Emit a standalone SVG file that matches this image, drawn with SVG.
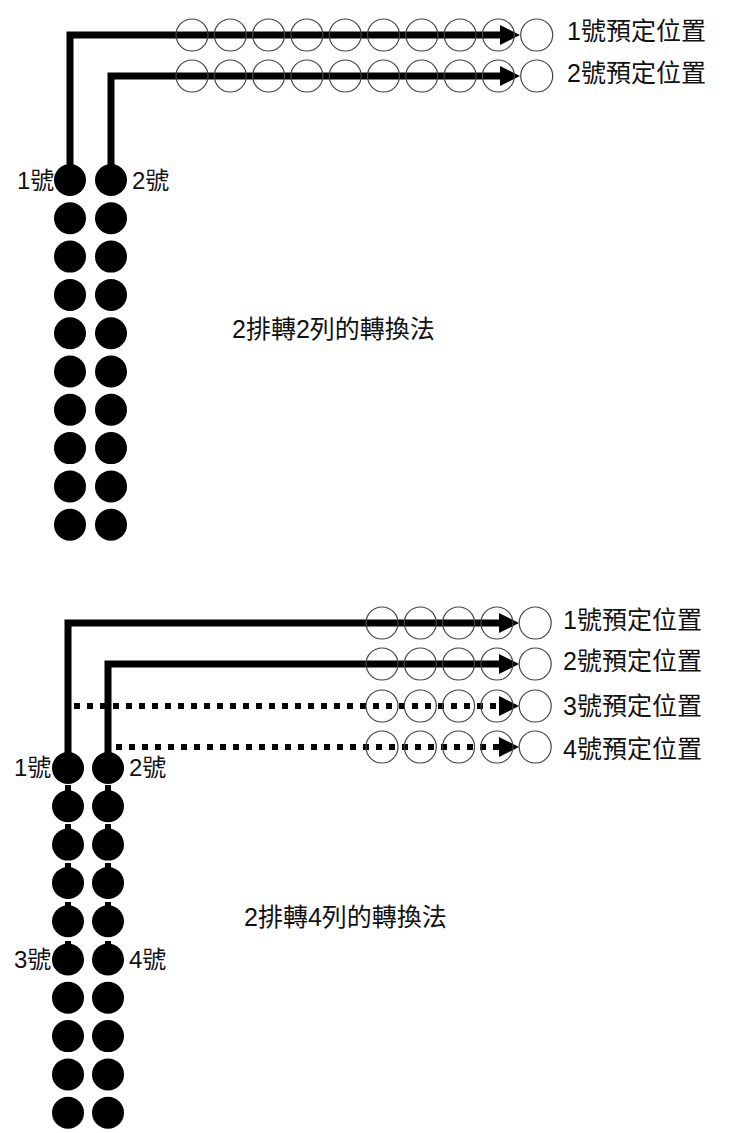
<svg xmlns="http://www.w3.org/2000/svg" width="740" height="1133" viewBox="0 0 740 1133">
<defs>
<style>
.dot{fill:#000}
.slot{fill:none;stroke:#444;stroke-width:1.2}
.solid{fill:none;stroke:#000;stroke-width:7;stroke-linejoin:miter}
.dash{fill:none;stroke:#000;stroke-width:6;stroke-dasharray:6 7}
text{font-family:"Liberation Sans","Noto Sans CJK TC",sans-serif;font-size:25px;fill:#111;dominant-baseline:central}
.lbl{font-size:24px}
</style>
<marker id="ah" markerUnits="userSpaceOnUse" markerWidth="20" markerHeight="20" viewBox="0 0 20 20" refX="0" refY="10" orient="auto">
<path d="M0,0 L20,10 L0,20 Z" fill="#000"/>
</marker>
</defs>
<rect width="740" height="1133" fill="#fff"/>

<g id="connectors">
<path class="solid" d="M70,165 V35 H500" marker-end="url(#ah)"/>
<path class="solid" d="M111,165 V76 H500" marker-end="url(#ah)"/>
<path class="dash" d="M68,960 V706 H499" marker-end="url(#ah)"/>
<path class="dash" d="M108,960 V747 H499" marker-end="url(#ah)"/>
<path class="solid" d="M68,753 V623 H499" marker-end="url(#ah)"/>
<path class="solid" d="M108,753 V664 H499" marker-end="url(#ah)"/>
</g>

<g id="top-slots-1">
<circle class="slot" cx="192" cy="35" r="16"/><circle class="slot" cx="230.3" cy="35" r="16"/><circle class="slot" cx="268.6" cy="35" r="16"/><circle class="slot" cx="306.9" cy="35" r="16"/><circle class="slot" cx="345.2" cy="35" r="16"/><circle class="slot" cx="383.5" cy="35" r="16"/><circle class="slot" cx="421.8" cy="35" r="16"/><circle class="slot" cx="460.1" cy="35" r="16"/><circle class="slot" cx="498.4" cy="35" r="16"/><circle class="slot" cx="536.7" cy="35" r="16"/>
</g>
<g id="top-slots-2">
<circle class="slot" cx="192" cy="76" r="16"/><circle class="slot" cx="230.3" cy="76" r="16"/><circle class="slot" cx="268.6" cy="76" r="16"/><circle class="slot" cx="306.9" cy="76" r="16"/><circle class="slot" cx="345.2" cy="76" r="16"/><circle class="slot" cx="383.5" cy="76" r="16"/><circle class="slot" cx="421.8" cy="76" r="16"/><circle class="slot" cx="460.1" cy="76" r="16"/><circle class="slot" cx="498.4" cy="76" r="16"/><circle class="slot" cx="536.7" cy="76" r="16"/>
</g>
<g id="top-labels">
<text x="567" y="31">1號預定位置</text>
<text x="567" y="73">2號預定位置</text>
</g>

<g id="top-col-1">
<circle class="dot" cx="70" cy="180" r="16"/><circle class="dot" cx="70" cy="218.3" r="16"/><circle class="dot" cx="70" cy="256.6" r="16"/><circle class="dot" cx="70" cy="294.9" r="16"/><circle class="dot" cx="70" cy="333.2" r="16"/><circle class="dot" cx="70" cy="371.5" r="16"/><circle class="dot" cx="70" cy="409.8" r="16"/><circle class="dot" cx="70" cy="448.1" r="16"/><circle class="dot" cx="70" cy="486.4" r="16"/><circle class="dot" cx="70" cy="524.7" r="16"/>
</g>
<g id="top-col-2">
<circle class="dot" cx="111" cy="180" r="16"/><circle class="dot" cx="111" cy="218.3" r="16"/><circle class="dot" cx="111" cy="256.6" r="16"/><circle class="dot" cx="111" cy="294.9" r="16"/><circle class="dot" cx="111" cy="333.2" r="16"/><circle class="dot" cx="111" cy="371.5" r="16"/><circle class="dot" cx="111" cy="409.8" r="16"/><circle class="dot" cx="111" cy="448.1" r="16"/><circle class="dot" cx="111" cy="486.4" r="16"/><circle class="dot" cx="111" cy="524.7" r="16"/>
</g>
<g id="top-col-labels">
<text class="lbl" x="17" y="180">1號</text>
<text class="lbl" x="132" y="180">2號</text>
</g>
<g id="title-1">
<text x="232" y="329">2排轉2列的轉換法</text>
</g>

<g id="bottom-slots">
<circle class="slot" cx="382" cy="623" r="16"/><circle class="slot" cx="420.3" cy="623" r="16"/><circle class="slot" cx="458.6" cy="623" r="16"/><circle class="slot" cx="496.9" cy="623" r="16"/><circle class="slot" cx="535.2" cy="623" r="16"/>
<circle class="slot" cx="382" cy="664" r="16"/><circle class="slot" cx="420.3" cy="664" r="16"/><circle class="slot" cx="458.6" cy="664" r="16"/><circle class="slot" cx="496.9" cy="664" r="16"/><circle class="slot" cx="535.2" cy="664" r="16"/>
<circle class="slot" cx="382" cy="706" r="16"/><circle class="slot" cx="420.3" cy="706" r="16"/><circle class="slot" cx="458.6" cy="706" r="16"/><circle class="slot" cx="496.9" cy="706" r="16"/><circle class="slot" cx="535.2" cy="706" r="16"/>
<circle class="slot" cx="382" cy="747" r="16"/><circle class="slot" cx="420.3" cy="747" r="16"/><circle class="slot" cx="458.6" cy="747" r="16"/><circle class="slot" cx="496.9" cy="747" r="16"/><circle class="slot" cx="535.2" cy="747" r="16"/>
</g>
<g id="bottom-labels">
<text x="563" y="620">1號預定位置</text>
<text x="563" y="661">2號預定位置</text>
<text x="563" y="706">3號預定位置</text>
<text x="563" y="749">4號預定位置</text>
</g>

<g id="bottom-col-1">
<circle class="dot" cx="68" cy="768" r="16"/><circle class="dot" cx="68" cy="806.3" r="16"/><circle class="dot" cx="68" cy="844.6" r="16"/><circle class="dot" cx="68" cy="882.9" r="16"/><circle class="dot" cx="68" cy="921.2" r="16"/><circle class="dot" cx="68" cy="959.5" r="16"/><circle class="dot" cx="68" cy="997.8" r="16"/><circle class="dot" cx="68" cy="1036.1" r="16"/><circle class="dot" cx="68" cy="1074.4" r="16"/><circle class="dot" cx="68" cy="1112.7" r="16"/>
</g>
<g id="bottom-col-2">
<circle class="dot" cx="108" cy="768" r="16"/><circle class="dot" cx="108" cy="806.3" r="16"/><circle class="dot" cx="108" cy="844.6" r="16"/><circle class="dot" cx="108" cy="882.9" r="16"/><circle class="dot" cx="108" cy="921.2" r="16"/><circle class="dot" cx="108" cy="959.5" r="16"/><circle class="dot" cx="108" cy="997.8" r="16"/><circle class="dot" cx="108" cy="1036.1" r="16"/><circle class="dot" cx="108" cy="1074.4" r="16"/><circle class="dot" cx="108" cy="1112.7" r="16"/>
</g>
<g id="bottom-col-labels">
<text class="lbl" x="14" y="767">1號</text>
<text class="lbl" x="129" y="767">2號</text>
<text class="lbl" x="14" y="959">3號</text>
<text class="lbl" x="129" y="959">4號</text>
</g>
<g id="title-2">
<text x="244" y="917">2排轉4列的轉換法</text>
</g>
</svg>
